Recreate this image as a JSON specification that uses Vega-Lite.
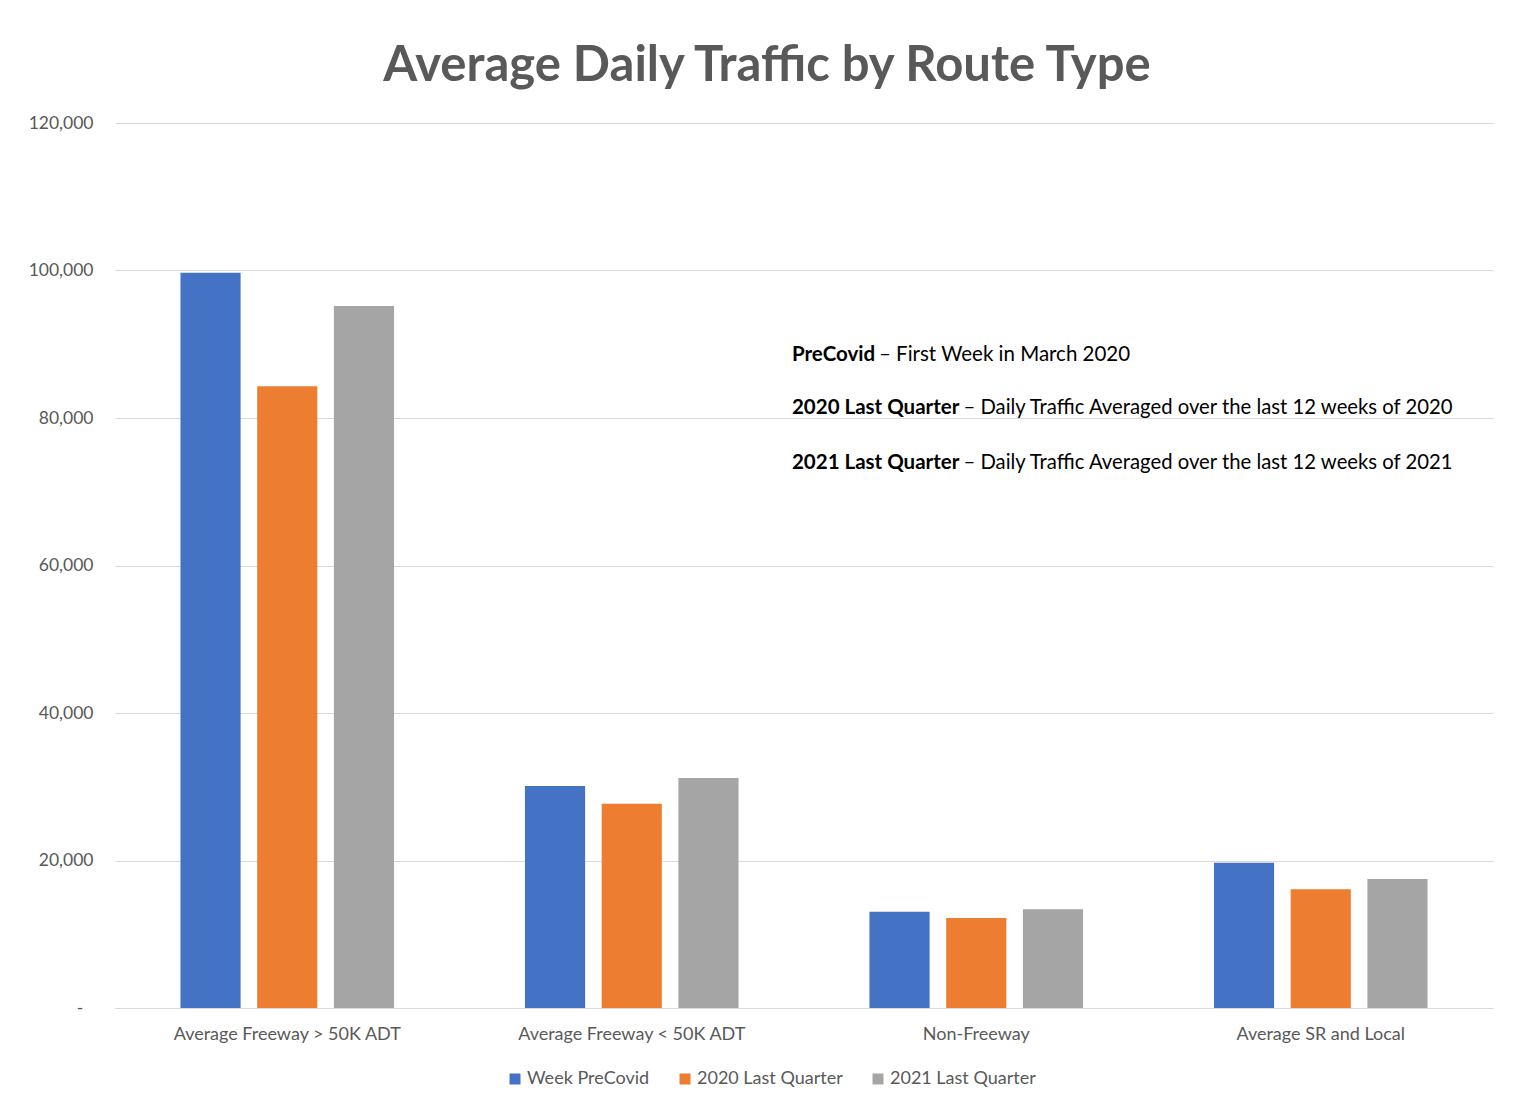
{
  "$schema": "https://vega.github.io/schema/vega-lite/v6.json",
  "width": 1378,
  "height": 885,
  "autosize": {"type": "none"},
  "padding": {"left": 115, "top": 123, "right": 25, "bottom": 96},
  "background": "white",
  "config": {"font": "Lato", "view": {"stroke": null}},
  "title": {
    "text": "Average Daily Traffic by Route Type",
    "font": "Lato",
    "fontSize": 49,
    "fontWeight": "bold",
    "color": "#595959",
    "anchor": "middle",
    "frame": "group",
    "dx": -37,
    "offset": 23
  },
  "layer": [
    {
      "data": {
        "values": [
          {"route": "Average Freeway > 50K ADT", "series": "Week PreCovid", "adt": 99700},
          {"route": "Average Freeway > 50K ADT", "series": "2020 Last Quarter", "adt": 84300},
          {"route": "Average Freeway > 50K ADT", "series": "2021 Last Quarter", "adt": 95200},
          {"route": "Average Freeway < 50K ADT", "series": "Week PreCovid", "adt": 30100},
          {"route": "Average Freeway < 50K ADT", "series": "2020 Last Quarter", "adt": 27700},
          {"route": "Average Freeway < 50K ADT", "series": "2021 Last Quarter", "adt": 31200},
          {"route": "Non-Freeway", "series": "Week PreCovid", "adt": 13050},
          {"route": "Non-Freeway", "series": "2020 Last Quarter", "adt": 12200},
          {"route": "Non-Freeway", "series": "2021 Last Quarter", "adt": 13400},
          {"route": "Average SR and Local", "series": "Week PreCovid", "adt": 19700},
          {"route": "Average SR and Local", "series": "2020 Last Quarter", "adt": 16100},
          {"route": "Average SR and Local", "series": "2021 Last Quarter", "adt": 17500}
        ]
      },
      "mark": {"type": "bar"},
      "encoding": {
        "x": {
          "field": "route",
          "type": "nominal",
          "scale": {
            "domain": ["Average Freeway > 50K ADT", "Average Freeway < 50K ADT", "Non-Freeway", "Average SR and Local"],
            "paddingInner": 0.38,
            "paddingOuter": 0.19
          },
          "axis": {
            "title": null,
            "labelAngle": 0,
            "labelLimit": 0,
            "ticks": false,
            "domainColor": "#d9d9d9",
            "labelColor": "#595959",
            "labelFontSize": 18,
            "labelPadding": 17
          }
        },
        "xOffset": {
          "field": "series",
          "type": "nominal",
          "scale": {
            "domain": ["Week PreCovid", "2020 Last Quarter", "2021 Last Quarter"],
            "paddingInner": 0.216,
            "paddingOuter": 0
          }
        },
        "y": {
          "field": "adt",
          "type": "quantitative",
          "scale": {"domain": [0, 120000]},
          "axis": {
            "title": null,
            "values": [0, 20000, 40000, 60000, 80000, 100000, 120000],
            "domain": false,
            "ticks": false,
            "gridColor": "#d9d9d9",
            "labelColor": "#595959",
            "labelFontSize": 17.5,
            "labelPadding": 22,
            "labelExpr": "datum.value === 0 ? '-\u2007\u200b' : format(datum.value, ',')"
          }
        },
        "color": {
          "field": "series",
          "type": "nominal",
          "scale": {
            "domain": ["Week PreCovid", "2020 Last Quarter", "2021 Last Quarter"],
            "range": ["#4472C4", "#ED7D31", "#A5A5A5"]
          },
          "legend": {
            "title": null,
            "orient": "none",
            "direction": "horizontal",
            "legendX": 391,
            "legendY": 947,
            "symbolType": "square",
            "symbolSize": 121,
            "symbolStrokeWidth": 0,
            "labelFontSize": 18,
            "labelColor": "#595959",
            "labelOffset": 3,
            "columnPadding": 26
          }
        }
      }
    },
    {
      "data": {"values": [{"term": "PreCovid", "definition": "– First Week in March 2020"}]},
      "encoding": {
        "x": {"datum": "Non-Freeway", "bandPosition": 0},
        "y": {"datum": 88600, "type": "quantitative"}
      },
      "layer": [
        {"mark": {"type": "text", "align": "left", "baseline": "middle", "dx": -77.5, "fontSize": 20.5, "fontWeight": "bold", "color": "#000000"}, "encoding": {"text": {"field": "term"}}},
        {"mark": {"type": "text", "align": "left", "baseline": "middle", "dx": 9.5, "fontSize": 20.5, "fontWeight": "normal", "color": "#000000"}, "encoding": {"text": {"field": "definition"}}}
      ]
    },
    {
      "data": {"values": [{"term": "2020 Last Quarter", "definition": "– Daily Traffic Averaged over the last 12 weeks of 2020"}]},
      "encoding": {
        "x": {"datum": "Non-Freeway", "bandPosition": 0},
        "y": {"datum": 81400, "type": "quantitative"}
      },
      "layer": [
        {"mark": {"type": "text", "align": "left", "baseline": "middle", "dx": -77.5, "fontSize": 20.5, "fontWeight": "bold", "color": "#000000"}, "encoding": {"text": {"field": "term"}}},
        {"mark": {"type": "text", "align": "left", "baseline": "middle", "dx": 94, "fontSize": 20.3, "fontWeight": "normal", "color": "#000000"}, "encoding": {"text": {"field": "definition"}}}
      ]
    },
    {
      "data": {"values": [{"term": "2021 Last Quarter", "definition": "– Daily Traffic Averaged over the last 12 weeks of 2021"}]},
      "encoding": {
        "x": {"datum": "Non-Freeway", "bandPosition": 0},
        "y": {"datum": 73900, "type": "quantitative"}
      },
      "layer": [
        {"mark": {"type": "text", "align": "left", "baseline": "middle", "dx": -77.5, "fontSize": 20.5, "fontWeight": "bold", "color": "#000000"}, "encoding": {"text": {"field": "term"}}},
        {"mark": {"type": "text", "align": "left", "baseline": "middle", "dx": 94, "fontSize": 20.3, "fontWeight": "normal", "color": "#000000"}, "encoding": {"text": {"field": "definition"}}}
      ]
    }
  ]
}
